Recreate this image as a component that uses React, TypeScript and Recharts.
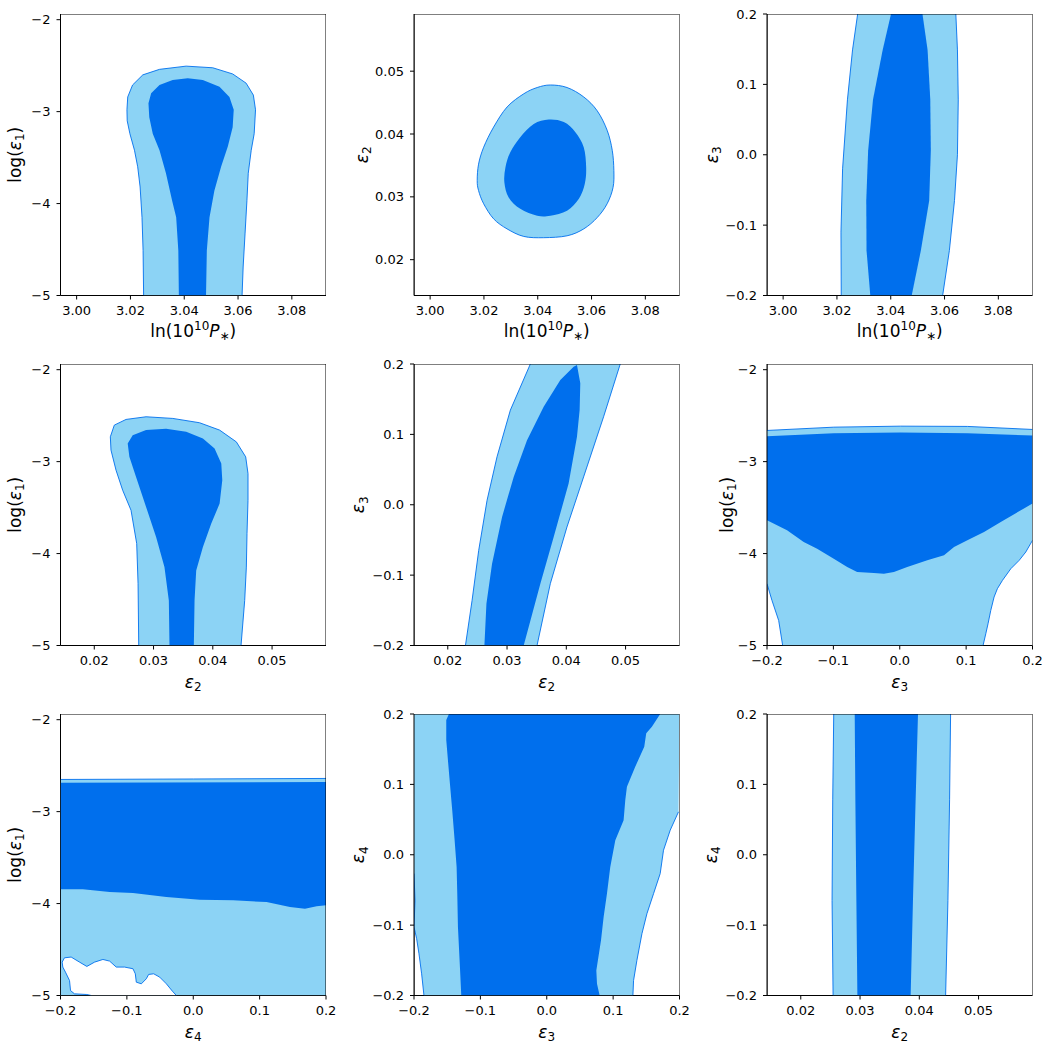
import React from "react";
import { ScatterChart, Scatter, XAxis, YAxis, Label } from "recharts";

type Pt = [number, number];

const DARK = "#006FED";
const LIGHT = "#8CD3F5";
const HOLE = "#FFFFFF";

// ticks and ranges of the axes
const lnPTicks = [3.0, 3.02, 3.04, 3.06, 3.08];
const logE1Ticks = [-5, -4, -3, -2];
const eps2Ticks = [0.02, 0.03, 0.04, 0.05];
const eps34Ticks = [-0.2, -0.1, 0, 0.1, 0.2];

const lnPDomain: Pt = [2.994, 3.0927];
const logE1Domain: Pt = [-5, -1.938];
const eps2Domain: Pt = [0.0143, 0.0591];
const eps34Domain: Pt = [-0.2, 0.2];

// ln(10^10 P*) vs log(eps1)
const p1Light: Pt[] = [
  [3.0249, -5], [3.0247, -4.51], [3.0243, -4.15], [3.0236, -3.82], [3.0227, -3.6],
  [3.0215, -3.42], [3.0198, -3.24], [3.0188, -3.1], [3.0187, -2.98], [3.019, -2.84],
  [3.0208, -2.71], [3.0246, -2.6], [3.0308, -2.54], [3.0407, -2.505], [3.0506, -2.523],
  [3.058, -2.59], [3.063, -2.69], [3.0657, -2.82], [3.0665, -2.98], [3.066, -3.24],
  [3.0649, -3.42], [3.0638, -3.67], [3.0633, -3.97], [3.0626, -4.33], [3.0619, -4.69],
  [3.0615, -5],
];
const p1Dark: Pt[] = [
  [3.038, -5], [3.0378, -4.51], [3.037, -4.15], [3.0355, -3.97], [3.0332, -3.67],
  [3.0308, -3.42], [3.0283, -3.24], [3.027, -3.06], [3.0267, -2.91], [3.0277, -2.8],
  [3.0308, -2.71], [3.0357, -2.657], [3.0413, -2.636], [3.0469, -2.657], [3.0531, -2.73],
  [3.0568, -2.84], [3.0584, -2.98], [3.058, -3.17], [3.0562, -3.38], [3.0537, -3.6],
  [3.0512, -3.86], [3.0494, -4.15], [3.0484, -4.51], [3.0481, -5],
];

// ln(10^10 P*) vs eps2
const p2Light: Pt[] = [
  [3.0447, 0.0478], [3.0509, 0.0474], [3.0571, 0.0459], [3.0621, 0.0437], [3.0658, 0.0406],
  [3.0677, 0.0374], [3.0683, 0.0342], [3.068, 0.0315], [3.0658, 0.0289], [3.0621, 0.0267],
  [3.0571, 0.0249], [3.0509, 0.0238], [3.0422, 0.0235], [3.0348, 0.0237], [3.0286, 0.0249],
  [3.0236, 0.0265], [3.0199, 0.0289], [3.018, 0.031], [3.0175, 0.0326], [3.018, 0.0352],
  [3.0199, 0.0379], [3.0236, 0.0411], [3.0286, 0.0443], [3.0348, 0.0464], [3.0398, 0.0474],
];
const p2Dark: Pt[] = [
  [3.0441, 0.0423], [3.0497, 0.0419], [3.054, 0.0403], [3.0571, 0.0379], [3.058, 0.0347],
  [3.0575, 0.0321], [3.0553, 0.0297], [3.0509, 0.0278], [3.0447, 0.027], [3.0398, 0.027],
  [3.0335, 0.0281], [3.0292, 0.0299], [3.0276, 0.0323], [3.028, 0.0347], [3.0298, 0.0371],
  [3.0335, 0.0395], [3.0385, 0.0416],
];

// ln(10^10 P*) vs eps3
const p3LightLeft: Pt[] = [
  [3.0216, -0.2], [3.0215, -0.11], [3.0221, -0.02], [3.0239, 0.078], [3.0258, 0.149], [3.0277, 0.2],
];
const p3LightRight: Pt[] = [
  [3.0642, 0.2], [3.0648, 0.149], [3.0651, 0.078], [3.0648, 0.0], [3.0637, -0.065],
  [3.0618, -0.136], [3.0593, -0.2],
];
const p3Dark: Pt[] = [
  [3.0324, -0.2], [3.031, -0.136], [3.0309, -0.065], [3.0316, 0.006], [3.0334, 0.078],
  [3.037, 0.149], [3.0401, 0.2], [3.0518, 0.2], [3.0537, 0.149], [3.0547, 0.078],
  [3.0549, 0.006], [3.0543, -0.065], [3.0512, -0.136], [3.0478, -0.2],
];

// eps2 vs log(eps1)
const p4Light: Pt[] = [
  [0.0275, -5], [0.02739, -4.328], [0.02716, -3.892], [0.0262, -3.529], [0.02479, -3.311],
  [0.02367, -3.093], [0.02282, -2.875], [0.02271, -2.73], [0.02338, -2.603], [0.02536, -2.541],
  [0.02874, -2.512], [0.03325, -2.53], [0.03776, -2.577], [0.04115, -2.657], [0.04397, -2.785],
  [0.04555, -2.948], [0.04594, -3.13], [0.04594, -3.42], [0.04577, -3.783], [0.04566, -4.147],
  [0.04538, -4.51], [0.04476, -5],
];
const p4Dark: Pt[] = [
  [0.03269, -5], [0.03258, -4.51], [0.03184, -4.147], [0.03043, -3.82], [0.02874, -3.493],
  [0.02705, -3.166], [0.02592, -2.948], [0.02564, -2.803], [0.02648, -2.712], [0.02874, -2.657],
  [0.03212, -2.643], [0.03551, -2.676], [0.03833, -2.748], [0.0403, -2.857], [0.04143, -3.021],
  [0.0416, -3.202], [0.04115, -3.456], [0.03974, -3.674], [0.03833, -3.929], [0.0372, -4.183],
  [0.03692, -4.51], [0.0368, -5],
];

// eps2 vs eps3
const p5LightLeft: Pt[] = [
  [0.02298, -0.2], [0.0241, -0.1359], [0.02522, -0.0648], [0.02663, 0.0064], [0.02831, 0.0681],
  [0.03056, 0.1345], [0.03393, 0.2],
];
const p5LightRight: Pt[] = [
  [0.0491, 0.2], [0.04629, 0.125], [0.04292, 0.0396], [0.04011, -0.0316], [0.0373, -0.1122],
  [0.03506, -0.2],
];
const p5Dark: Pt[] = [
  [0.02618, -0.2], [0.02652, -0.1407], [0.02747, -0.0838], [0.02916, -0.0173], [0.03112, 0.0396],
  [0.03337, 0.0918], [0.03618, 0.1393], [0.03899, 0.1772], [0.04124, 0.1962], [0.0418, 0.1986],
  [0.04236, 0.1725], [0.04225, 0.1345], [0.0418, 0.0966], [0.04039, 0.0301], [0.03787, -0.0458],
  [0.03562, -0.1122], [0.03281, -0.2],
];

// eps3 vs log(eps1)
const p6LightLeft: Pt[] = [
  [-0.2, -4.328], [-0.1925, -4.51], [-0.1824, -4.728], [-0.1764, -5],
];
const p6LightRight: Pt[] = [
  [0.1255, -5], [0.1296, -4.873], [0.133, -4.764], [0.1371, -4.619], [0.1421, -4.473],
  [0.1471, -4.382], [0.1547, -4.292], [0.1673, -4.165], [0.1799, -4.074], [0.1899, -3.983],
  [0.2, -3.856],
];
const p6LightTop: Pt[] = [
  [0.2, -2.65], [0.1019, -2.617], [0.0013, -2.614], [-0.0994, -2.625], [-0.2, -2.661],
];
const p6Dark: Pt[] = [
  [-0.2, -2.723], [-0.0994, -2.69], [0.0013, -2.683], [0.1019, -2.69], [0.2, -2.716],
  [0.2, -3.456], [0.1522, -3.656], [0.127, -3.765], [0.1019, -3.856], [0.0818, -3.929],
  [0.0667, -4.019], [0.0415, -4.074], [0.0113, -4.147], [-0.0088, -4.201], [-0.0239, -4.219],
  [-0.039, -4.212], [-0.0642, -4.201], [-0.0792, -4.147], [-0.0994, -4.056], [-0.1245, -3.947],
  [-0.1447, -3.874], [-0.1698, -3.747], [-0.2, -3.638],
];

// eps4 vs log(eps1)
const p7LightTop: Pt[] = [[-0.2, -2.65], [0.0, -2.645], [0.2, -2.639]];
const p7LightBase: Pt[] = [[0.2, -5], [-0.2, -5]];
const p7Dark: Pt[] = [
  [-0.2, -2.686], [0.2, -2.679], [0.2, -4.019], [0.1859, -4.03], [0.1683, -4.056],
  [0.1457, -4.038], [0.1104, -3.983], [0.0601, -3.965], [0.0098, -3.958], [-0.0405, -3.929],
  [-0.0908, -3.885], [-0.126, -3.874], [-0.1663, -3.845], [-0.2, -3.845],
];
const p7Hole: Pt[] = [
  [-0.1537, -5], [-0.1603, -4.989], [-0.1789, -4.982], [-0.1849, -4.946], [-0.1864, -4.837],
  [-0.1925, -4.746], [-0.1965, -4.691], [-0.1975, -4.637], [-0.194, -4.59], [-0.1839, -4.582],
  [-0.1713, -4.637], [-0.1603, -4.684], [-0.1487, -4.637], [-0.1361, -4.608], [-0.126, -4.626],
  [-0.116, -4.691], [-0.1034, -4.691], [-0.0908, -4.709], [-0.0873, -4.764], [-0.0858, -4.855],
  [-0.0782, -4.873], [-0.0707, -4.818], [-0.0672, -4.771], [-0.0596, -4.764], [-0.0506, -4.8],
  [-0.0405, -4.873], [-0.0314, -4.953], [-0.0254, -5],
];

// eps3 vs eps4
const p8LightLeft: Pt[] = [
  [-0.2, -0.0268], [-0.1985, -0.0648], [-0.2, -0.1027], [-0.196, -0.1193], [-0.1925, -0.1407],
  [-0.1885, -0.1692], [-0.185, -0.2],
];
const p8LightRight: Pt[] = [
  [0.1298, -0.2], [0.1308, -0.1786], [0.1358, -0.1502], [0.1434, -0.1122], [0.1509, -0.0838],
  [0.1609, -0.0553], [0.1709, -0.0268], [0.1759, 0.0064], [0.186, 0.0349], [0.1985, 0.061],
];
const p8LightCorners: Pt[] = [[0.2, 0.2], [-0.2, 0.2]];
const p8Dark: Pt[] = [
  [-0.1474, 0.2], [-0.1514, 0.1915], [-0.1514, 0.163], [-0.1489, 0.1345], [-0.1459, 0.1013],
  [-0.1424, 0.0633], [-0.1388, 0.0206], [-0.1358, -0.0174], [-0.1348, -0.0553], [-0.1338, -0.1027],
  [-0.1308, -0.1597], [-0.1288, -0.2], [0.0797, -0.2], [0.0757, -0.1834], [0.0747, -0.1644],
  [0.0817, -0.1217], [0.0857, -0.0885], [0.0907, -0.0553], [0.0957, -0.0174], [0.1033, 0.0206],
  [0.1158, 0.0491], [0.1183, 0.0776], [0.1208, 0.0966], [0.1333, 0.125], [0.1469, 0.1535],
  [0.1499, 0.1725], [0.1584, 0.182], [0.1709, 0.2],
];

// eps2 vs eps4
const p9LightLeft: Pt[] = [[0.02545, -0.2], [0.02528, -0.065], [0.02539, 0.078], [0.02556, 0.2]];
const p9LightRight: Pt[] = [[0.04528, 0.2], [0.04511, 0.078], [0.04483, -0.065], [0.04444, -0.2]];
const p9Dark: Pt[] = [
  [0.02955, -0.2], [0.02938, -0.065], [0.02921, 0.078], [0.0291, 0.2],
  [0.03978, 0.2], [0.03938, 0.078], [0.03893, -0.065], [0.03854, -0.2],
];

type AxisKind = "lnP" | "logE1" | "e2" | "e3" | "e4";

const axisSpec: Record<AxisKind, { domain: Pt; ticks: number[]; digits: number }> = {
  lnP: { domain: lnPDomain, ticks: lnPTicks, digits: 2 },
  logE1: { domain: logE1Domain, ticks: logE1Ticks, digits: 0 },
  e2: { domain: eps2Domain, ticks: eps2Ticks, digits: 2 },
  e3: { domain: eps34Domain, ticks: eps34Ticks, digits: 1 },
  e4: { domain: eps34Domain, ticks: eps34Ticks, digits: 1 },
};

type Edge = { pts: Pt[]; closed?: boolean };
type PanelDef = {
  row: number;
  col: number;
  x: AxisKind;
  y: AxisKind;
  fills: { pts: Pt[]; color: string }[];
  edges: Edge[];
  yGap: number;
  xGap: number;
  smooth?: boolean;
};

const panels: PanelDef[] = [
  {
    row: 0, col: 0, x: "lnP", y: "logE1", yGap: 40, xGap: 41.5,
    fills: [{ pts: p1Light, color: LIGHT }, { pts: p1Dark, color: DARK }],
    edges: [{ pts: p1Light }],
  },
  {
    row: 0, col: 1, x: "lnP", y: "e2", yGap: 46.5, xGap: 41.5, smooth: true,
    fills: [{ pts: p2Light, color: LIGHT }, { pts: p2Dark, color: DARK }],
    edges: [{ pts: p2Light, closed: true }],
  },
  {
    row: 0, col: 2, x: "lnP", y: "e3", yGap: 49.5, xGap: 41.5,
    fills: [{ pts: [...p3LightLeft, ...p3LightRight], color: LIGHT }, { pts: p3Dark, color: DARK }],
    edges: [{ pts: p3LightLeft }, { pts: p3LightRight }],
  },
  {
    row: 1, col: 0, x: "e2", y: "logE1", yGap: 40, xGap: 42,
    fills: [{ pts: p4Light, color: LIGHT }, { pts: p4Dark, color: DARK }],
    edges: [{ pts: p4Light }],
  },
  {
    row: 1, col: 1, x: "e2", y: "e3", yGap: 50, xGap: 42,
    fills: [{ pts: [...p5LightLeft, ...p5LightRight], color: LIGHT }, { pts: p5Dark, color: DARK }],
    edges: [{ pts: p5LightLeft }, { pts: p5LightRight }],
  },
  {
    row: 1, col: 2, x: "e3", y: "logE1", yGap: 34.5, xGap: 42,
    fills: [
      { pts: [...p6LightLeft, ...p6LightRight, ...p6LightTop], color: LIGHT },
      { pts: p6Dark, color: DARK },
    ],
    edges: [{ pts: p6LightLeft }, { pts: p6LightRight }, { pts: p6LightTop }],
  },
  {
    row: 2, col: 0, x: "e4", y: "logE1", yGap: 40, xGap: 42,
    fills: [
      { pts: [...p7LightTop, ...p7LightBase], color: LIGHT },
      { pts: p7Dark, color: DARK },
      { pts: p7Hole, color: HOLE },
    ],
    edges: [{ pts: p7LightTop }, { pts: p7Hole }],
  },
  {
    row: 2, col: 1, x: "e3", y: "e4", yGap: 50, xGap: 42,
    fills: [
      { pts: [...p8LightLeft, ...p8LightRight, ...p8LightCorners], color: LIGHT },
      { pts: p8Dark, color: DARK },
    ],
    edges: [{ pts: p8LightLeft }, { pts: p8LightRight }],
  },
  {
    row: 2, col: 2, x: "e2", y: "e4", yGap: 50.5, xGap: 42,
    fills: [{ pts: [...p9LightLeft, ...p9LightRight], color: LIGHT }, { pts: p9Dark, color: DARK }],
    edges: [{ pts: p9LightLeft }, { pts: p9LightRight }],
  },
];

const PLOT_LEFT = [60.5, 413.5, 766.5];
const PLOT_TOP = [14, 364, 714];
const PLOT_W = 265.5;
const PLOT_H = 281.5;
const X_AXIS_H = 50;
const M_TOP = 10;
const M_RIGHT = 10;

const FONT = "DejaVu Sans, sans-serif";
const LABEL_SIZE = 17;
const SUB_SIZE = 12;

const fmt = (digits: number) => (v: number) => v.toFixed(digits).replace("-", "\u2212");

const toRows = (pts: Pt[]) => pts.map(([x, y]) => ({ x, y }));

const frameOf = (xd: Pt, yd: Pt): Pt[] => [
  [xd[0], yd[0]], [xd[1], yd[0]], [xd[1], yd[1]], [xd[0], yd[1]], [xd[0], yd[0]],
];

const NoDot = () => <g />;

type XY = { x: number; y: number };

// closed Catmull-Rom ring through the scaled points
function smoothRing(pts: XY[]) {
  const n = pts.length;
  let d = `M${pts[0].x},${pts[0].y}`;
  for (let i = 0; i < n; i++) {
    const p0 = pts[(i - 1 + n) % n];
    const p1 = pts[i];
    const p2 = pts[(i + 1) % n];
    const p3 = pts[(i + 2) % n];
    const c1x = p1.x + (p2.x - p0.x) / 6;
    const c1y = p1.y + (p2.y - p0.y) / 6;
    const c2x = p2.x - (p3.x - p1.x) / 6;
    const c2y = p2.y - (p3.y - p1.y) / 6;
    d += `C${c1x},${c1y} ${c2x},${c2y} ${p2.x},${p2.y}`;
  }
  return d + "Z";
}

function pathLine(fill: string, stroke: string, closed: boolean, smooth = false, sw = 1) {
  return (props: any) => {
    const pts: XY[] = props.points || [];
    if (!pts.length) return <g />;
    const d = smooth
      ? smoothRing(pts)
      : pts.map((p, i) => `${i ? "L" : "M"}${p.x},${p.y}`).join("") + (closed ? "Z" : "");
    return <path d={d} fill={fill} stroke={stroke} strokeWidth={stroke === "none" ? 0 : sw} strokeLinejoin="round" />;
  };
}

function mathSpans(kind: AxisKind) {
  const sub = (t: string) => [
    <tspan key="s" dy={3.5} fontSize={SUB_SIZE}>{t}</tspan>,
  ];
  switch (kind) {
    case "lnP":
      return [
        <tspan key="a">ln(10</tspan>,
        <tspan key="b" dy={-7} fontSize={SUB_SIZE}>10</tspan>,
        <tspan key="c" dy={7} fontStyle="italic">P</tspan>,
        <tspan key="d" dy={3} fontSize={SUB_SIZE}>{"\u2217"}</tspan>,
        <tspan key="e" dy={-3}>)</tspan>,
      ];
    case "logE1":
      return [
        <tspan key="a">log(</tspan>,
        <tspan key="b" fontStyle="italic">{"\u03B5"}</tspan>,
        <tspan key="c" dy={3.5} fontSize={SUB_SIZE}>1</tspan>,
        <tspan key="d" dy={-3.5}>)</tspan>,
      ];
    case "e2":
      return [<tspan key="a" fontStyle="italic">{"\u03B5"}</tspan>, ...sub("2")];
    case "e3":
      return [<tspan key="a" fontStyle="italic">{"\u03B5"}</tspan>, ...sub("3")];
    default:
      return [<tspan key="a" fontStyle="italic">{"\u03B5"}</tspan>, ...sub("4")];
  }
}

function xLabel(kind: AxisKind, gap: number) {
  return (props: any) => {
    const vb = props.viewBox;
    if (!vb) return null;
    return (
      <text x={vb.x + vb.width / 2} y={vb.y + gap} textAnchor="middle" fontFamily={FONT} fontSize={LABEL_SIZE} fill="#000">
        {mathSpans(kind)}
      </text>
    );
  };
}

function yLabel(kind: AxisKind, gap: number) {
  return (props: any) => {
    const vb = props.viewBox;
    if (!vb) return null;
    const cx = vb.x + vb.width - gap;
    const cy = vb.y + vb.height / 2;
    return (
      <text x={cx} y={cy} transform={`rotate(-90 ${cx} ${cy})`} textAnchor="middle" fontFamily={FONT} fontSize={LABEL_SIZE} fill="#000">
        {mathSpans(kind)}
      </text>
    );
  };
}

const tickStyle = { fontSize: 13, fill: "#000", fontFamily: FONT };

function Panel({ p }: { p: PanelDef }) {
  const xs = axisSpec[p.x];
  const ys = axisSpec[p.y];
  const yAxisW = p.col === 0 ? 60.5 : 75;
  const width = yAxisW + PLOT_W + M_RIGHT;
  const height = M_TOP + PLOT_H + X_AXIS_H;
  return (
    <div
      style={{
        position: "absolute",
        left: PLOT_LEFT[p.col] - yAxisW,
        top: PLOT_TOP[p.row] - M_TOP,
        width,
        height,
      }}
    >
      <ScatterChart width={width} height={height} margin={{ top: M_TOP, right: M_RIGHT, bottom: 0, left: 0 }}>
        <XAxis
          dataKey="x"
          type="number"
          domain={xs.domain}
          ticks={xs.ticks}
          allowDataOverflow
          tickFormatter={fmt(xs.digits)}
          height={X_AXIS_H}
          tickSize={4}
          tickMargin={6}
          tick={tickStyle}
          stroke="#000"
          axisLine={{ stroke: "#000" }}
          tickLine={{ stroke: "#000" }}
        >
          <Label content={xLabel(p.x, p.xGap)} />
        </XAxis>
        <YAxis
          dataKey="y"
          type="number"
          domain={ys.domain}
          ticks={ys.ticks}
          allowDataOverflow
          tickFormatter={fmt(ys.digits)}
          width={yAxisW}
          tickSize={4}
          tickMargin={6}
          tick={tickStyle}
          stroke="#000"
          axisLine={{ stroke: "#000" }}
          tickLine={{ stroke: "#000" }}
        >
          <Label content={yLabel(p.y, p.yGap)} />
        </YAxis>
        {p.fills.map((f, i) => (
          <Scatter
            key={`f${i}`}
            data={toRows(f.pts)}
            fill={f.color}
            shape={NoDot}
            line={pathLine(f.color, "none", true, !!p.smooth)}
            isAnimationActive={false}
            legendType="none"
          />
        ))}
        {p.edges.map((e, i) => (
          <Scatter
            key={`e${i}`}
            data={toRows(e.closed && !p.smooth ? [...e.pts, e.pts[0]] : e.pts)}
            fill={DARK}
            shape={NoDot}
            line={pathLine("none", DARK, false, !!p.smooth && !!e.closed, 0.9)}
            isAnimationActive={false}
            legendType="none"
          />
        ))}
        <Scatter
          key="frame"
          data={toRows(frameOf(xs.domain, ys.domain))}
          fill="#000"
          shape={NoDot}
          line={pathLine("none", "#000", true)}
          isAnimationActive={false}
          legendType="none"
        />
      </ScatterChart>
    </div>
  );
}

export default function App() {
  return (
    <div
      style={{
        position: "absolute",
        left: 0,
        top: 0,
        width: 1043,
        height: 1043,
        background: "#fff",
        fontFamily: FONT,
      }}
    >
      {panels.map((p, i) => (
        <Panel key={i} p={p} />
      ))}
    </div>
  );
}
